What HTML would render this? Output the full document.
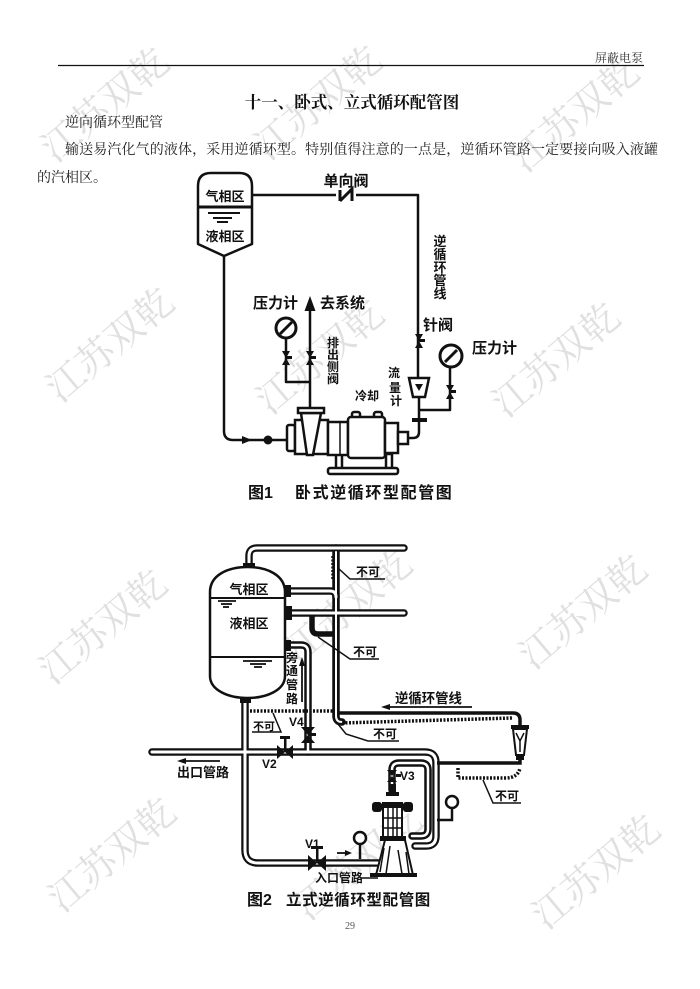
<!DOCTYPE html>
<html><head><meta charset="utf-8"><style>
html,body{margin:0;padding:0;background:#fff;}
svg{display:block}
</style></head><body>
<svg width="700" height="989" viewBox="0 0 700 989" xmlns="http://www.w3.org/2000/svg">
<rect width="700" height="989" fill="#fff"/>
<!-- watermarks -->
<g fill="#e0e0e0" font-family="'Noto Serif CJK SC', serif" font-size="38" text-anchor="middle">
<text transform="translate(105,105) rotate(-40)" dy="13">江苏双乾</text>
<text transform="translate(318,103) rotate(-40)" dy="13">江苏双乾</text>
<text transform="translate(575,115) rotate(-40)" dy="13">江苏双乾</text>
<text transform="translate(110,345) rotate(-40)" dy="13">江苏双乾</text>
<text transform="translate(320,357) rotate(-40)" dy="13">江苏双乾</text>
<text transform="translate(556,360) rotate(-40)" dy="13">江苏双乾</text>
<text transform="translate(103,627) rotate(-40)" dy="13">江苏双乾</text>
<text transform="translate(348,607) rotate(-40)" dy="13">江苏双乾</text>
<text transform="translate(583,612) rotate(-40)" dy="13">江苏双乾</text>
<text transform="translate(112,855) rotate(-40)" dy="13">江苏双乾</text>
<text transform="translate(358,863) rotate(-40)" dy="13">江苏双乾</text>
<text transform="translate(596,872) rotate(-40)" dy="13">江苏双乾</text>
</g>

<!-- header -->
<text x="643" y="62" text-anchor="end" font-family="'Liberation Serif','Noto Serif CJK SC',serif" font-size="12" fill="#333">屏蔽电泵</text>
<line x1="58" y1="65.5" x2="644" y2="65.5" stroke="#111" stroke-width="1.2"/>
<text x="352" y="108" text-anchor="middle" font-family="'Liberation Serif','Noto Serif CJK SC',serif" font-size="16.5" font-weight="bold" fill="#111">十一、卧式、立式循环配管图</text>
<g font-family="'Liberation Serif','Noto Serif CJK SC',serif" font-size="14" fill="#222">
<text x="65" y="127">逆向循环型配管</text>
<text x="65" y="154" textLength="593" lengthAdjust="spacing">输送易汽化气的液体，采用逆循环型。特别值得注意的一点是，逆循环管路一定要接向吸入液罐</text>
<text x="37" y="182">的汽相区。</text>
</g>

<!-- ================= FIG 1 ================= -->
<g stroke="#111" stroke-width="2.5" fill="none" stroke-linejoin="round">
  <path d="M198,244 L198,186 Q198,173 211,173 L239,173 Q252,173 252,186 L252,244 L224,256 Z" fill="#fff"/>
  <line x1="198" y1="207" x2="252" y2="207" stroke-width="3"/>
  <line x1="208" y1="213" x2="240" y2="213" stroke-width="2"/>
  <line x1="213" y1="218" x2="232" y2="218" stroke-width="2"/>
  <line x1="217" y1="222" x2="228" y2="222" stroke-width="2"/>
  <path d="M252,195 L418,195 L418,378"/>
  <path d="M224,255 L224,431 Q224,440 233,440 L288,440"/>
  <line x1="310" y1="408" x2="310" y2="306"/>
  <path d="M286,338 L286,382 L310,382"/>
  <path d="M419,396 L419,432 Q419,438 413,438 L408,438"/>
  <path d="M450,367 L450,410 L419,410"/>
</g>
<g stroke="#111" stroke-width="3" fill="none">
  <line x1="336" y1="195" x2="356" y2="195" stroke="#fff" stroke-width="4"/>
  <path d="M340,201 L340,190 M340,201 L352,189 L352,201"/>
</g>
<polygon points="310,296 304.5,311 315.5,311" fill="#111"/>
<g stroke="#111" stroke-width="3" fill="#fff">
  <circle cx="286" cy="328" r="10"/>
  <line x1="280" y1="334" x2="292" y2="322"/>
  <circle cx="451" cy="356" r="11"/>
  <line x1="445" y1="362" x2="457" y2="350"/>
</g>
<g fill="#111">
  <polygon points="282,351 290,351 286,358 290,365 282,365 286,358"/><rect x="286" y="356" width="6" height="3"/>
  <polygon points="306,351 314,351 310,358 314,365 306,365 310,358"/><rect x="310" y="356" width="6" height="3"/>
  <polygon points="415,334 423,334 419,341 423,348 415,348 419,341"/><rect x="419" y="339" width="6" height="3"/>
  <polygon points="446,385 454,385 450,392 454,399 446,399 450,392"/><rect x="450" y="390" width="6" height="3"/>
  <polygon points="242,436 252,440 242,444"/>
  <circle cx="268" cy="440" r="4.5"/>
  <rect x="412" y="418" width="15" height="4"/>
</g>
<polygon points="409,378 429,378 425,397 413,397" fill="#fff" stroke="#111" stroke-width="2.5"/>
<polygon points="415,384 423,384 419,391" fill="#111"/>
<g stroke="#111" stroke-width="2.5" fill="#fff">
  <rect x="336" y="454" width="6" height="15"/>
  <rect x="386" y="454" width="6" height="15"/>
  <rect x="328" y="468" width="70" height="6" rx="2"/>
  <rect x="287" y="425" width="8" height="26" rx="2"/>
  <rect x="295" y="420" width="33" height="34"/>
  <rect x="328" y="422" width="20" height="33"/>
  <rect x="352" y="412" width="8" height="6" rx="2"/>
  <rect x="374" y="412" width="8" height="6" rx="2"/>
  <rect x="348" y="417" width="37" height="41" rx="3"/>
  <rect x="385" y="423" width="13" height="30"/>
  <rect x="398" y="432" width="10" height="12"/>
  <polygon points="301,413 321,413 313,455 307,455"/>
  <rect x="298" y="408" width="26" height="5"/>
  <line x1="340" y1="423" x2="340" y2="454" stroke-width="1.5"/>
</g>
<g font-family="'Liberation Sans','Noto Sans CJK SC',sans-serif" font-weight="bold" fill="#111">
  <text x="225" y="201" font-size="13" text-anchor="middle">气相区</text>
  <text x="225" y="241" font-size="13" text-anchor="middle">液相区</text>
  <text x="346" y="186" font-size="15" text-anchor="middle">单向阀</text>
  <g font-size="13" text-anchor="middle">
    <text x="440" y="246">逆</text><text x="440" y="259">循</text><text x="440" y="272">环</text><text x="440" y="285">管</text><text x="440" y="298">线</text>
  </g>
  <text x="423" y="330" font-size="15">针阀</text>
  <text x="253" y="308" font-size="15">压力计</text>
  <text x="320" y="308" font-size="15">去系统</text>
  <text x="472" y="353" font-size="15">压力计</text>
  <g font-size="12" text-anchor="middle">
    <text x="333" y="347">排</text><text x="333" y="359">出</text><text x="333" y="371">侧</text><text x="333" y="383">阀</text>
    <text x="394" y="377">流</text><text x="395" y="392">量</text><text x="396" y="405">计</text>
  </g>
  <text x="355" y="400" font-size="12">冷却</text>
  <text x="248" y="498" font-size="16">图1</text>
  <text x="295" y="498" font-size="16" letter-spacing="1.6">卧式逆循环型配管图</text>
</g>

<!-- ================= FIG 2 ================= -->
<g stroke="#111" stroke-width="7.5" fill="none" stroke-linecap="round" stroke-linejoin="round">
  <path d="M249,568 L249,556 Q249,548 257,548 L404,548"/>
  <path d="M291,591 L330,591 Q336,591 336,597"/>
  <path d="M336,548 L336,716 Q336,722 342,722"/>
  <path d="M292,613 L404,613"/>
  <path d="M312,617 L312,628 Q312,634 318,634 L333,634" stroke-width="5.5"/>
  <path d="M291,645 L301,645 Q308,645 308,652 L308,752"/>
  <path d="M152,752 L425,752 Q436,752 436,763 L436,836 Q436,846 426,846 L415,846"/>
  <path d="M392,790 L392,770 Q392,763 399,763 L421,763 Q428,763 428,770 L428,829 Q428,836 421,836 L412,836"/>
  <path d="M245,700 L245,850 Q245,863 258,863 L380,863"/>
</g>
<g stroke="#fff" stroke-width="3" fill="none" stroke-linecap="round" stroke-linejoin="round">
  <path d="M249,568 L249,556 Q249,548 257,548 L404,548"/>
  <path d="M291,591 L330,591 Q336,591 336,597"/>
  <path d="M336,552 L336,716 Q336,722 342,722" stroke-width="2"/>
  <path d="M292,613 L404,613"/>
  <path d="M291,645 L301,645 Q308,645 308,652 L308,752" stroke-width="2.5"/>
  <path d="M152,752 L425,752 Q436,752 436,763 L436,836 Q436,846 426,846 L415,846"/>
  <path d="M392,790 L392,770 Q392,763 399,763 L421,763 Q428,763 428,770 L428,829 Q428,836 421,836 L412,836" stroke-width="2.5"/>
  <path d="M245,700 L245,850 Q245,863 258,863 L380,863"/>
</g>
<path d="M210,592 C210,575 228,567 247.5,567 C267,567 285,575 285,592 L285,676 C285,690 267,698 247.5,698 C228,698 210,690 210,676 Z" fill="#fff" stroke="#111" stroke-width="2.5"/>
<line x1="210" y1="598" x2="285" y2="598" stroke="#111" stroke-width="2"/>
<line x1="210" y1="657" x2="285" y2="657" stroke="#111" stroke-width="2"/>
<g stroke="#111" stroke-width="1.8">
  <line x1="218" y1="601" x2="236" y2="601"/><line x1="221" y1="604" x2="232" y2="604"/><line x1="223" y1="607" x2="229" y2="607"/>
  <line x1="243" y1="661" x2="272" y2="661"/><line x1="250" y1="664" x2="266" y2="664"/><line x1="254" y1="667" x2="262" y2="667"/>
</g>
<g fill="#111">
  <rect x="243" y="563" width="12" height="5"/>
  <rect x="285" y="585" width="6" height="12"/>
  <rect x="285" y="606" width="7" height="14"/>
  <rect x="285" y="640" width="6" height="11"/>
  <rect x="240" y="698" width="11" height="5"/>
</g>
<g stroke="#111" fill="none">
  <path d="M337,713 L513,713 Q520,713 520,720 L520,727" stroke-width="3.5"/>
  <path d="M520,757 L520,763 L437,763" stroke-width="3.5"/>
  <g stroke-width="3.5" stroke-dasharray="2 1.5">
    <line x1="250" y1="711" x2="333" y2="711"/>
    <path d="M342,723 L512,718"/>
    <path d="M458,768 L458,778 L505,778 Q518,778 520,768"/>
    <line x1="333" y1="556" x2="333" y2="580"/>
    <line x1="318" y1="634" x2="332" y2="634"/>
  </g>
</g>
<g stroke="#111" stroke-width="1.5" fill="none">
  <path d="M338,568 L350,579 L385,579"/>
  <path d="M318,637 L350,659 L379,659"/>
  <path d="M273,713 L281,732 L252,732"/>
  <path d="M338,724 L346,734 L368,741 L399,741"/>
  <path d="M483,780 L493,803 L521,803"/>
</g>
<rect x="511" y="725" width="18" height="4" fill="#111"/>
<polygon points="513,729 527,729 524,755 516,755" fill="#fff" stroke="#111" stroke-width="2"/>
<path d="M516,733 L520,741 L524,733 M520,741 L520,752" stroke="#111" stroke-width="1.5" fill="none"/>
<rect x="516" y="755" width="8" height="5" fill="#111"/>
<g stroke="#111" stroke-width="2.5" fill="#fff">
  <circle cx="360" cy="838" r="6"/>
  <circle cx="452" cy="802" r="6"/>
</g>
<g stroke="#111" stroke-width="2.5" fill="none">
  <line x1="360" y1="844" x2="360" y2="859"/>
  <path d="M452,808 L452,820 L437,820"/>
</g>
<g fill="#111">
  <polygon points="308,855 308,871 317,863 326,855 326,871 317,863"/>
  <rect x="316" y="848" width="2.5" height="15"/><rect x="311" y="846" width="12" height="3"/>
  <polygon points="277,745 277,759 285,752 293,745 293,759 285,752"/>
  <rect x="284" y="738" width="2.5" height="14"/><rect x="280" y="736" width="10" height="3"/>
  <polygon points="301,727 315,727 308,735 315,743 301,743 308,735"/>
  <rect x="308" y="733" width="8" height="3"/>
  <polygon points="387,770 397,770 392,776 397,782 387,782 392,776"/>
  <rect x="396" y="774" width="5" height="3"/>
</g>
<g stroke="#111" stroke-width="1.8" fill="#111">
  <line x1="302" y1="702" x2="302" y2="664"/><polygon points="302,657 299,666 305,666" stroke="none"/>
  <line x1="220" y1="761" x2="184" y2="761"/><polygon points="177,761 186,758 186,764" stroke="none"/>
  <line x1="472" y1="707" x2="388" y2="707"/><polygon points="381,707 390,704 390,710" stroke="none"/>
  <line x1="337" y1="853" x2="346" y2="853"/><polygon points="352,853 345,850 345,856" stroke="none"/>
</g>
<g stroke="#111" stroke-width="2" fill="#fff">
  <polygon points="385,840 405,840 413,875 376,875"/>
  <rect x="383" y="803" width="19" height="37"/>
</g>
<g stroke="#111" stroke-width="1.5" fill="none">
  <line x1="388" y1="803" x2="388" y2="840"/><line x1="393" y1="803" x2="393" y2="840"/><line x1="397" y1="803" x2="397" y2="840"/>
  <line x1="383" y1="818" x2="402" y2="818"/><line x1="383" y1="828" x2="402" y2="828"/>
  <path d="M384,848 L380,872 M390,846 L386,874 M398,850 L402,874 M406,852 L409,874"/>
</g>
<g fill="#111">
  <rect x="372" y="802" width="10" height="10" rx="3"/>
  <rect x="403" y="802" width="10" height="10" rx="3"/>
  <rect x="380" y="804" width="25" height="4"/>
  <rect x="386" y="792" width="13" height="4"/>
  <rect x="389" y="784" width="7" height="8"/>
  <rect x="380" y="836" width="26" height="5"/>
  <rect x="370" y="873" width="47" height="4"/>
</g>
<line x1="362" y1="878" x2="378" y2="878" stroke="#111" stroke-width="1.5"/>
<g font-family="'Liberation Sans','Noto Sans CJK SC',sans-serif" font-weight="bold" fill="#111">
  <text x="249" y="594" font-size="13" text-anchor="middle">气相区</text>
  <text x="249" y="628" font-size="13" text-anchor="middle">液相区</text>
  <text x="356" y="576" font-size="12">不可</text>
  <text x="353" y="656" font-size="12">不可</text>
  <text x="253" y="730" font-size="11">不可</text>
  <text x="373" y="738" font-size="12">不可</text>
  <text x="495" y="800" font-size="12">不可</text>
  <g font-size="12" text-anchor="middle">
    <text x="292" y="662">旁</text><text x="292" y="675">通</text><text x="292" y="689">管</text><text x="292" y="703">路</text>
  </g>
  <text x="395" y="703" font-size="13.4">逆循环管线</text>
  <text x="289" y="726" font-size="12">V4</text>
  <text x="262" y="768" font-size="12">V2</text>
  <text x="177" y="777" font-size="13">出口管路</text>
  <text x="400" y="780" font-size="12">V3</text>
  <text x="305" y="848" font-size="12">V1</text>
  <text x="315" y="882" font-size="12">入口管路</text>
  <text x="247" y="905" font-size="16">图2</text>
  <text x="286" y="905" font-size="15.5" letter-spacing="0.6">立式逆循环型配管图</text>
</g>
<text x="350" y="929" text-anchor="middle" font-family="'Liberation Serif',serif" font-size="10" fill="#555">29</text>
</svg>
</body></html>
